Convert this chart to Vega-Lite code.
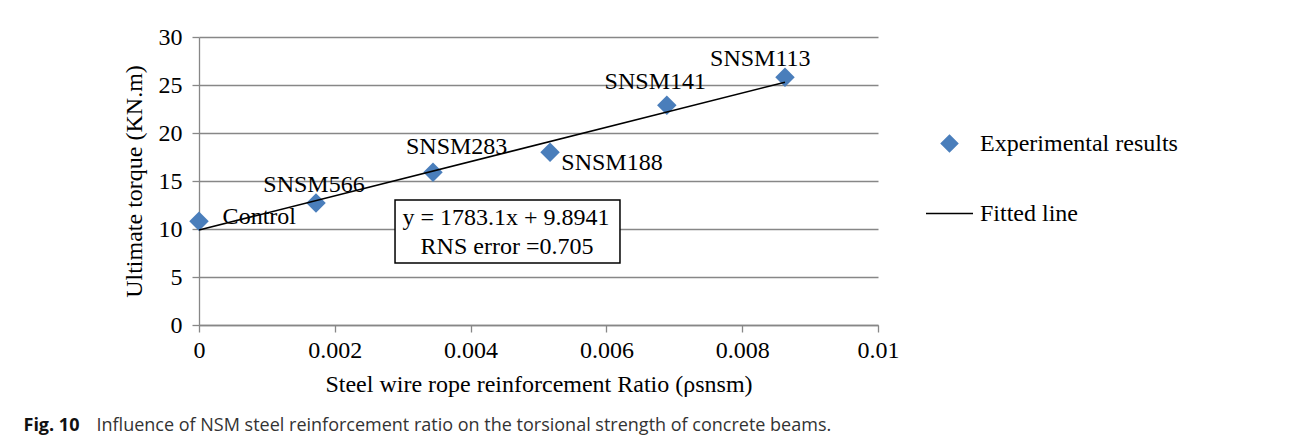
{
  "$schema": "https://vega.github.io/schema/vega-lite/v6.json",
  "width": 679,
  "height": 288,
  "autosize": {"type": "none"},
  "padding": {"left": 199, "top": 37, "right": 412, "bottom": 117},
  "background": "white",
  "resolve": {"axis": {"x": "independent", "y": "independent"}},
  "config": {
    "view": {"stroke": null},
    "axis": {
      "labelFont": "Liberation Serif",
      "labelFontSize": 24,
      "labelColor": "#000000",
      "titleFont": "Liberation Serif",
      "titleFontSize": 24,
      "titleFontWeight": "normal",
      "titleColor": "#000000",
      "domainColor": "#878787",
      "domainWidth": 1.3,
      "tickColor": "#878787",
      "tickWidth": 1.3,
      "tickSize": 7,
      "gridColor": "#878787",
      "gridWidth": 1.3,
      "gridOpacity": 1
    }
  },
  "layer": [
    {
      "data": {"values": [{"ratio": 0.002887, "ratio2": 0.0062, "torque": 6.46, "torque2": 13.02}]},
      "mark": {"type": "rect", "fill": "white", "stroke": "black", "strokeWidth": 1.5},
      "encoding": {
        "x": {"field": "ratio", "type": "quantitative", "scale": {"domain": [0, 0.01], "nice": false, "zero": false}, "axis": null},
        "x2": {"field": "ratio2"},
        "y": {"field": "torque", "type": "quantitative", "scale": {"domain": [0, 30], "nice": false}, "axis": null},
        "y2": {"field": "torque2"}
      }
    },
    {
      "data": {"values": [
        {"label": "Control", "ratio": 0, "torque": 10.8, "series": "Experimental results"},
        {"label": "SNSM566", "ratio": 0.001723, "torque": 12.7, "series": "Experimental results"},
        {"label": "SNSM283", "ratio": 0.003446, "torque": 15.9, "series": "Experimental results"},
        {"label": "SNSM188", "ratio": 0.00517, "torque": 18.0, "series": "Experimental results"},
        {"label": "SNSM141", "ratio": 0.00689, "torque": 22.9, "series": "Experimental results"},
        {"label": "SNSM113", "ratio": 0.00863, "torque": 25.8, "series": "Experimental results"}
      ]},
      "mark": {"type": "point", "filled": true, "opacity": 1, "size": 3100, "clip": false},
      "encoding": {
        "x": {
          "field": "ratio",
          "type": "quantitative",
          "scale": {"domain": [0, 0.01], "nice": false, "zero": false},
          "axis": {
            "orient": "bottom",
            "title": "Steel wire rope reinforcement Ratio (ρsnsm)",
            "values": [0, 0.002, 0.004, 0.006, 0.008, 0.01],
            "format": "~g",
            "grid": false,
            "labelPadding": 6,
            "titlePadding": 10,
            "labelFlush": false
          }
        },
        "y": {
          "field": "torque",
          "type": "quantitative",
          "scale": {"domain": [0, 30], "nice": false},
          "axis": {
            "orient": "left",
            "title": "Ultimate torque (KN.m)",
            "values": [0, 5, 10, 15, 20, 25, 30],
            "grid": true,
            "labelPadding": 10,
            "titlePadding": 12,
            "labelFlush": false
          }
        },
        "color": {
          "field": "series",
          "type": "nominal",
          "scale": {"domain": ["Experimental results", "Fitted line"], "range": ["#4a7ebb", "#000000"]},
          "legend": {
            "orient": "none",
            "legendX": 726,
            "legendY": 82,
            "title": null,
            "padding": 0,
            "symbolSize": 2209,
            "symbolOffset": 0,
            "labelFont": "Liberation Serif",
            "labelFontSize": 24,
            "labelColor": "#000000",
            "labelOffset": 6,
            "labelLimit": 0,
            "rowPadding": 33,
            "direction": "vertical",
            "encode": {
              "symbols": {
                "update": {
                  "fill": {"scale": "color", "field": "value"},
                  "stroke": {"scale": "color", "field": "value"},
                  "strokeWidth": {"value": 1.5},
                  "opacity": {"value": 1}
                }
              }
            }
          }
        },
        "shape": {
          "field": "series",
          "type": "nominal",
          "scale": {"domain": ["Experimental results", "Fitted line"], "range": ["M0,-0.35L0.35,0L0,0.35L-0.35,0Z", "M-1,0L1,0"]},
          "legend": {
            "orient": "none",
            "legendX": 726,
            "legendY": 82,
            "title": null,
            "padding": 0,
            "symbolSize": 2209,
            "symbolOffset": 0,
            "labelFont": "Liberation Serif",
            "labelFontSize": 24,
            "labelColor": "#000000",
            "labelOffset": 6,
            "labelLimit": 0,
            "rowPadding": 33,
            "direction": "vertical",
            "encode": {
              "symbols": {
                "update": {
                  "fill": {"scale": "color", "field": "value"},
                  "stroke": {"scale": "color", "field": "value"},
                  "strokeWidth": {"value": 1.5},
                  "opacity": {"value": 1}
                }
              }
            }
          }
        }
      }
    },
    {
      "data": {"values": [
        {"ratio": 0, "torque": 9.8941, "series": "Fitted line"},
        {"ratio": 0.00863, "torque": 25.282, "series": "Fitted line"}
      ]},
      "mark": {"type": "line", "strokeWidth": 1.5, "clip": false},
      "encoding": {
        "x": {
          "field": "ratio",
          "type": "quantitative",
          "scale": {"domain": [0, 0.01], "nice": false, "zero": false},
          "axis": {
            "orient": "top",
            "title": "Influence of NSM steel reinforcement ratio on the torsional strength of concrete beams.",
            "titleFont": "Open Sans",
            "titleFontSize": 18,
            "titleColor": "#333333",
            "titleFontWeight": "normal",
            "titleX": -103,
            "titleY": 393,
            "titleAlign": "left",
            "titleAnchor": "start",
            "titleBaseline": "alphabetic",
            "titleLimit": 0,
            "labels": false,
            "ticks": false,
            "domain": false,
            "grid": false
          }
        },
        "y": {
          "field": "torque",
          "type": "quantitative",
          "scale": {"domain": [0, 30], "nice": false},
          "axis": {
            "orient": "right",
            "title": "Fig. 10",
            "titleFont": "Open Sans",
            "titleFontSize": 18,
            "titleColor": "#111111",
            "titleFontWeight": "bold",
            "titleAngle": 0,
            "titleX": -855,
            "titleY": 393,
            "titleAlign": "left",
            "titleAnchor": "start",
            "titleBaseline": "alphabetic",
            "titleLimit": 0,
            "labels": false,
            "ticks": false,
            "domain": false,
            "grid": false
          }
        },
        "color": {"field": "series", "type": "nominal"}
      }
    },
    {
      "data": {"values": [
        {"text": "Control", "ratio": 0.000888, "torque": 11.25},
        {"text": "SNSM566", "ratio": 0.001694, "torque": 14.58},
        {"text": "SNSM283", "ratio": 0.003795, "torque": 18.57},
        {"text": "SNSM188", "ratio": 0.006082, "torque": 16.84},
        {"text": "SNSM141", "ratio": 0.00672, "torque": 25.35},
        {"text": "SNSM113", "ratio": 0.008267, "torque": 27.67}
      ]},
      "mark": {"type": "text", "font": "Liberation Serif", "fontSize": 24, "color": "#000000", "align": "center", "baseline": "middle", "clip": false},
      "encoding": {
        "x": {"field": "ratio", "type": "quantitative", "scale": {"domain": [0, 0.01], "nice": false, "zero": false}, "axis": null},
        "y": {"field": "torque", "type": "quantitative", "scale": {"domain": [0, 30], "nice": false}, "axis": null},
        "text": {"field": "text"}
      }
    },
    {
      "data": {"values": [
        {"text": "y = 1783.1x + 9.8941", "ratio": 0.004521, "torque": 11.15},
        {"text": "RNS error =0.705", "ratio": 0.004536, "torque": 8.16}
      ]},
      "mark": {"type": "text", "font": "Liberation Serif", "fontSize": 24, "color": "#000000", "align": "center", "baseline": "middle"},
      "encoding": {
        "x": {"field": "ratio", "type": "quantitative", "scale": {"domain": [0, 0.01], "nice": false, "zero": false}, "axis": null},
        "y": {"field": "torque", "type": "quantitative", "scale": {"domain": [0, 30], "nice": false}, "axis": null},
        "text": {"field": "text"}
      }
    }
  ]
}
